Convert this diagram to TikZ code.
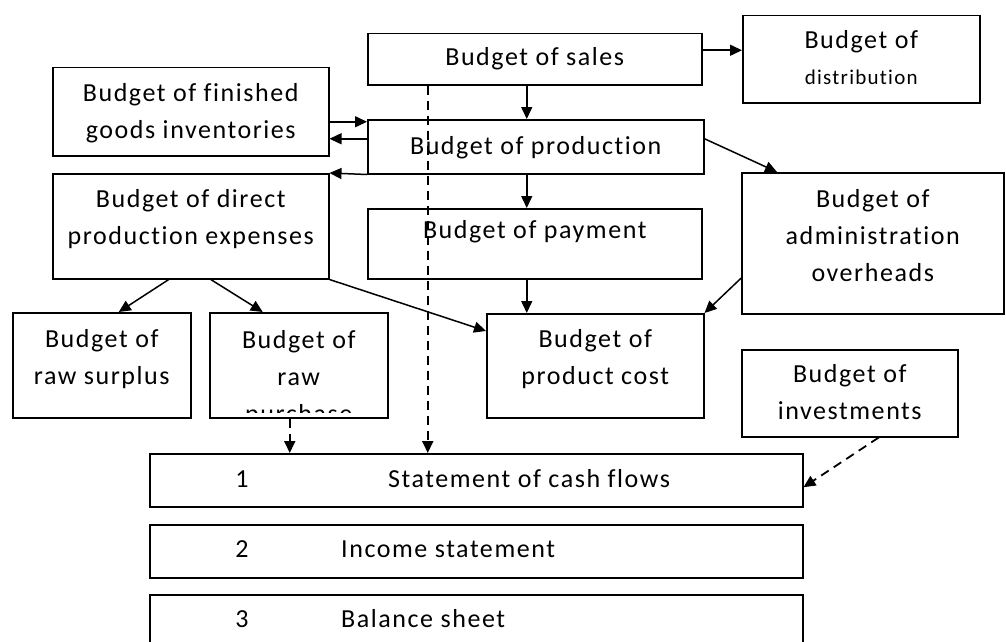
\documentclass[tikz,border=0pt]{standalone}
\usepackage{fontspec}
\setmainfont{Carlito}[LetterSpace=6, Ligatures=NoCommon]
\usetikzlibrary{arrows.meta, positioning}

\tikzset{
  box/.style={draw, line width=1.5pt, inner sep=0pt, anchor=north west},
  txt/.style={inner sep=0pt, align=center},
  flow/.style={->, line width=1.5pt},
  cashflow/.style={->, line width=1.8pt, dash pattern=on 9pt off 6pt}
}

\begin{document}
\begin{tikzpicture}[x=1pt,y=-1pt,>={Triangle[length=12pt,width=11pt]},
    font=\fontsize{26}{37}\selectfont]
  \useasboundingbox (0,0) rectangle (1006,642);
  \fill[white] (0,0) rectangle (1006,642);

  % budgets
  \node[box, minimum width=334pt, minimum height=51pt] (sales) at (367,33) {};
  \node[box, minimum width=237pt, minimum height=87pt] (distrib) at (742,15) {};
  \node[box, minimum width=276pt, minimum height=88pt] (finished) at (52,67) {};
  \node[box, minimum width=336pt, minimum height=54pt] (prod) at (367,119) {};
  \node[box, minimum width=276pt, minimum height=105pt] (direct) at (52,173) {};
  \node[box, minimum width=334pt, minimum height=70pt] (payment) at (367,208) {};
  \node[box, minimum width=262pt, minimum height=141pt] (admin) at (741,172) {};
  \node[box, minimum width=178pt, minimum height=105pt] (surplus) at (12,312) {};
  \node[box, minimum width=178pt, minimum height=105pt] (raw) at (209,312) {};
  \node[box, minimum width=217pt, minimum height=104pt] (cost) at (486,313) {};
  \node[box, minimum width=216pt, minimum height=87pt] (invest) at (741,349) {};

  % statements
  \node[box, minimum width=653pt, minimum height=53pt] (cash) at (149,453) {};
  \node[box, minimum width=653pt, minimum height=53pt] (income) at (149,524) {};
  \node[box, minimum width=653pt, minimum height=60pt] (balance) at (149,594) {};

  % texts
  \node[txt, below=14pt of sales.north] (sales-t) {Budget of sales};
  \node[txt, below=15pt of distrib.north] (distrib-t) {Budget of\\[-1pt]{\fontsize{21}{30}\selectfont distribution}};
  \node[txt, below=16pt of finished.north] (finished-t) {Budget of finished\\goods inventories};
  \node[txt, below=17pt of prod.north] (prod-t) {Budget of production};
  \node[txt, below=16pt of direct.north] (direct-t) {Budget of direct\\production expenses};
  \node[txt, below=12pt of payment.north] (payment-t) {Budget of payment};
  \node[txt, below=17pt of admin.north] (admin-t) {Budget of\\administration\\overheads};
  \node[txt, below=17pt of surplus.north] (surplus-t) {Budget of\\raw surplus};
  \begin{scope}
    \clip (raw.north west) rectangle ([yshift=6pt]raw.south east);
    \node[txt, below=18pt of raw.north] (raw-t) {Budget of\\raw\\purchase};
  \end{scope}
  \node[txt, below=16pt of cost.north] (cost-t) {Budget of\\product cost};
  \node[txt, below=15pt of invest.north] (invest-t) {Budget of\\investments};

  \node[txt, anchor=base] (cash-n) at (242,487) {1};
  \node[txt, anchor=base west] (cash-t) at (388,487) {Statement of cash flows};
  \node[txt, anchor=base] (income-n) at (242,557) {2};
  \node[txt, anchor=base west] (income-t) at (341,557) {Income statement};
  \node[txt, anchor=base] (balance-n) at (242,627) {3};
  \node[txt, anchor=base west] (balance-t) at (341,627) {Balance sheet};

  % links
  \draw[flow] ([yshift=9pt]sales.east) -- ([yshift=9pt]sales.east -| distrib.west);
  \draw[flow] ([xshift=-8pt]sales.south) -- ([xshift=-8pt]sales.south |- prod.north);
  \draw[flow] ([yshift=-10pt]finished.east) -- ([yshift=-10pt]finished.east -| prod.west);
  \draw[flow] ([yshift=8pt]prod.west) -- ([yshift=8pt]prod.west -| finished.east);
  \draw[flow] (prod.south west) -- (direct.north east);
  \draw[flow] ([yshift=8pt]prod.east) -- ([xshift=36pt]admin.north west);
  \draw[flow] ([xshift=-9pt]prod.south) -- ([xshift=-9pt]prod.south |- payment.north);
  \draw[flow] ([xshift=-8pt]payment.south) -- ([xshift=-8pt]payment.south |- cost.north);
  \draw[flow] ([yshift=-35pt]admin.west) -- (cost.north east);
  \draw[flow] ([xshift=-22pt]direct.south) -- ([xshift=17pt]surplus.north);
  \draw[flow] ([xshift=20pt]direct.south) -- ([xshift=-36pt]raw.north);
  \draw[flow] (direct.south east) -- ([yshift=-18pt]cost.north west);

  % into the cash flows
  \draw[cashflow] ([xshift=-107pt]sales.south) -- ([xshift=-107pt]sales.south |- cash.north);
  \draw[cashflow] ([xshift=-9pt]raw.south) -- ([xshift=-9pt]raw.south |- cash.north);
  \draw[cashflow] ([xshift=29pt]invest.south) -- ([yshift=-7pt]cash.east);
\end{tikzpicture}
\end{document}
